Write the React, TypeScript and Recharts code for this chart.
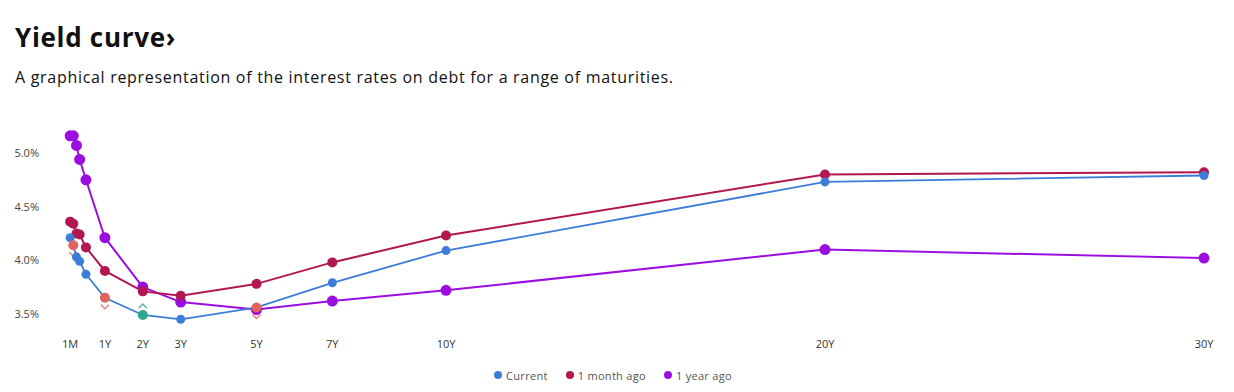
import { LineChart, Line, XAxis, YAxis, Legend } from "recharts";

const FONT = "'Open Sans', sans-serif";

// maturity in years
const maturities = [1 / 12, 2 / 12, 3 / 12, 4 / 12, 6 / 12, 1, 2, 3, 5, 7, 10, 20, 30];
const current = [4.21, 4.14, 4.03, 3.99, 3.87, 3.65, 3.49, 3.45, 3.56, 3.79, 4.09, 4.73, 4.79];
const monthAgo = [4.36, 4.34, 4.25, 4.24, 4.12, 3.9, 3.71, 3.67, 3.78, 3.98, 4.23, 4.8, 4.82];
const yearAgo = [5.16, 5.16, 5.07, 4.94, 4.75, 4.21, 3.75, 3.61, 3.54, 3.62, 3.72, 4.1, 4.02];
// change flags shown on the current curve
const currentChange = ["", "down", "", "", "", "down", "up", "", "down", "", "", "", ""];

const xTicks = [1 / 12, 1, 2, 3, 5, 7, 10, 20, 30];
const xTickLabels = ["1M", "1Y", "2Y", "3Y", "5Y", "7Y", "10Y", "20Y", "30Y"];
const yTicks = [3.5, 4.0, 4.5, 5.0];

const series = [
  { key: "current", name: "Current", color: "#3b7dd8" },
  { key: "monthAgo", name: "1 month ago", color: "#b3174f" },
  { key: "yearAgo", name: "1 year ago", color: "#9a0fe0" },
];

const data = maturities.map((m, i) => ({
  m,
  current: current[i],
  monthAgo: monthAgo[i],
  yearAgo: yearAgo[i],
  change: currentChange[i],
}));

const UP = "#2ea58d";
const DOWN = "#e0625c";

const CurrentDot = (props: any) => {
  const { cx, cy, payload, index } = props;
  if (cx == null || cy == null) return <g key={index} />;
  const ch = payload.change;
  if (!ch) return <circle key={index} cx={cx} cy={cy} r={4.5} fill="#3b7dd8" />;
  const c = ch === "up" ? UP : DOWN;
  const oy = ch === "up" ? cy - 9 : cy + 9;
  const pts = ch === "up"
    ? `${cx - 4},${oy + 2} ${cx},${oy - 2} ${cx + 4},${oy + 2}`
    : `${cx - 4},${oy - 2} ${cx},${oy + 2} ${cx + 4},${oy - 2}`;
  return (
    <g key={index}>
      <circle cx={cx} cy={cy} r={5} fill={c} />
      <polyline points={pts} fill="none" stroke={c} strokeWidth={1.5} strokeOpacity={0.8} />
    </g>
  );
};

const LegendContent = () => (
  <div style={{ display: "flex", justifyContent: "center", gap: 18, height: 20, alignItems: "center", fontFamily: FONT, fontSize: 11, color: "#555", letterSpacing: 0.3 }}>
    {series.map((s) => (
      <div key={s.key} style={{ display: "flex", alignItems: "center", gap: 4 }}>
        <span style={{ width: 8, height: 8, borderRadius: "50%", background: s.color, display: "inline-block" }} />
        <span>{s.name}</span>
      </div>
    ))}
  </div>
);

export default function App() {
  return (
    <div style={{ position: "absolute", left: 0, top: 0, width: 1234, height: 392, background: "#fff", fontFamily: FONT }}>
      <div style={{ position: "absolute", left: 15, top: 19, fontSize: 26, fontWeight: 700, color: "#111", lineHeight: "36px", letterSpacing: 0.7 }}>
        Yield curve›
      </div>
      <div style={{ position: "absolute", left: 15, top: 65, fontSize: 16, color: "#111", lineHeight: "24px", letterSpacing: 0.7 }}>
        A graphical representation of the interest rates on debt for a range of maturities.
      </div>
      <LineChart width={1234} height={392} data={data} margin={{ top: 131.5, right: 30, bottom: 7, left: 22 }}>
        <XAxis
          dataKey="m"
          type="number"
          domain={[0, 30]}
          ticks={xTicks}
          tickFormatter={(v: number) => xTickLabels[xTicks.indexOf(v)] ?? ""}
          axisLine={false}
          tickLine={false}
          tickSize={0}
          tickMargin={10}
          height={35}
          interval={0}
          tick={{ fontSize: 11, fill: "#333", fontFamily: FONT }}
        />
        <YAxis
          domain={[3.35, 5.2]}
          ticks={yTicks}
          tickFormatter={(v: number) => v.toFixed(1) + "%"}
          axisLine={false}
          tickLine={false}
          tickSize={0}
          tickMargin={28}
          width={45}
          tick={{ fontSize: 11, fill: "#444", fontFamily: FONT }}
        />
        <Legend verticalAlign="bottom" height={20} content={<LegendContent />} />
        <Line dataKey="yearAgo" name="1 year ago" stroke="#9a0fe0" strokeWidth={2} dot={{ r: 5.5, fill: "#9a0fe0", stroke: "none" }} isAnimationActive={false} />
        <Line dataKey="monthAgo" name="1 month ago" stroke="#b3174f" strokeWidth={2} dot={{ r: 5, fill: "#b3174f", stroke: "none" }} isAnimationActive={false} />
        <Line dataKey="current" name="Current" stroke="#3b7dd8" strokeWidth={1.8} dot={CurrentDot} isAnimationActive={false} />
      </LineChart>
    </div>
  );
}
